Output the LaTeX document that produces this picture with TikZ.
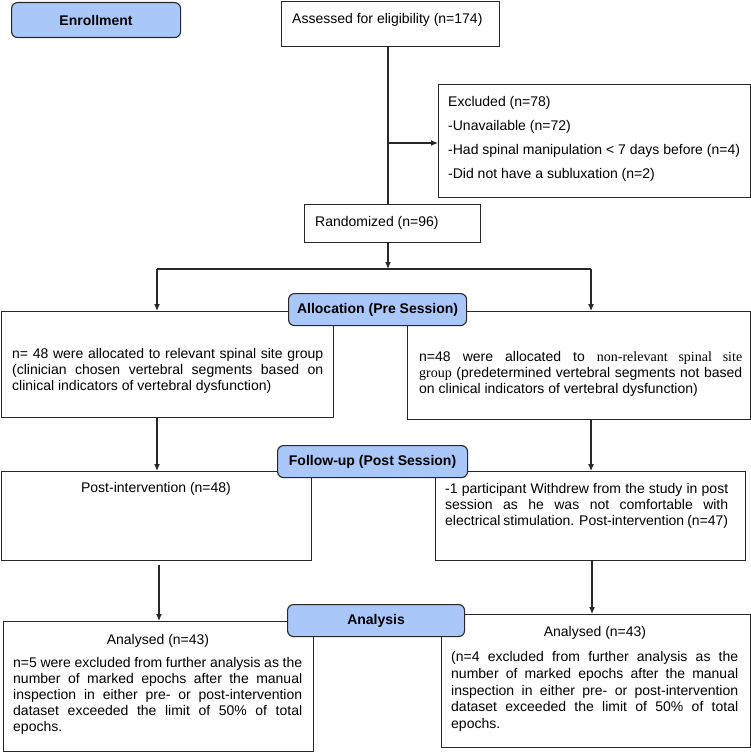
\documentclass[tikz,border=0pt]{standalone}
\usepackage{fontspec}
\setmainfont{Liberation Sans}
\newfontfamily\tnr{Liberation Serif}
\usetikzlibrary{arrows.meta}
\definecolor{labblue}{RGB}{170,199,250}
\definecolor{edge}{RGB}{40,40,40}
\tikzset{
  box/.style={draw=edge, line width=1.1pt, inner sep=0pt, anchor=north west},
  lab/.style={draw=edge, fill=labblue, line width=1.1pt, rounded corners=6pt, inner sep=0pt, anchor=north west, font=\bfseries\fontsize{14}{16}\selectfont},
  txt/.style={inner sep=0pt, font=\fontsize{14}{16}\selectfont},
  jpar/.style={txt, anchor=north west, align=justify},
  conn/.style={draw=edge, line width=1.1pt},
  arr/.style={conn, -{Latex[length=7pt,width=6pt]}},
}
\begin{document}
\begin{tikzpicture}[x=1pt,y=-1pt]
\useasboundingbox (0,0) rectangle (751,752);
% boxes
\node[box, minimum width=218pt, minimum height=45.5pt] (ass) at (281,0.6) {};
\node[box, minimum width=312pt, minimum height=113pt] (excl) at (438,84) {};
\node[box, minimum width=176pt, minimum height=38pt] (rand) at (304,204) {};
\node[box, minimum width=332.5pt, minimum height=106pt] (allocL) at (0.6,311) {};
\node[box, minimum width=343pt, minimum height=108pt] (allocR) at (407,311) {};
\node[box, minimum width=310.5pt, minimum height=89pt] (postL) at (0.6,471) {};
\node[box, minimum width=310pt, minimum height=89pt] (postR) at (435,471) {};
\node[box, minimum width=310pt, minimum height=130pt] (anL) at (3,621) {};
\node[box, minimum width=309pt, minimum height=133pt] (anR) at (441,614) {};
% texts
\node[txt, anchor=base west] (assT) at (292,23.6) {Assessed for eligibility (n=174)};
\node[txt, anchor=north west, align=left, font=\fontsize{14}{24}\selectfont] (exclT) at (448,96.4) {Excluded (n=78)\\-Unavailable (n=72)\\-Had spinal manipulation < 7 days before (n=4)\\-Did not have a subluxation (n=2)};
\node[txt, anchor=base west] (randT) at (315,226.6) {Randomized (n=96)};
\node[jpar, text width=311pt] (allocLT) at (12,348.4) {n= 48 were allocated to relevant spinal site group\linebreak (clinician chosen vertebral segments based on\linebreak clinical indicators of vertebral dysfunction)};
\node[jpar, text width=323pt] (allocRT) at (419,351.4) {n=48 were allocated to {\tnr non-relevant spinal site}\linebreak {\tnr group} (predetermined vertebral segments not based\linebreak on clinical indicators of vertebral dysfunction)};
\node[txt, anchor=base] (postLT) at (156,492.6) {Post-intervention (n=48)};
\node[jpar, text width=283pt] (postRT) at (445,483.4) {-1 participant Withdrew from the study in post\linebreak session as he was not comfortable with\linebreak electrical stimulation. Post-intervention (n=47)};
\node[txt, anchor=base] (anLT) at (158,644.6) {Analysed (n=43)};
\node[jpar, text width=289pt] (anLP) at (13,657.4) {n=5 were excluded from further analysis as the\linebreak number of marked epochs after the manual\linebreak inspection in either pre- or post-intervention\linebreak dataset exceeded the limit of 50\% of total\linebreak epochs.};
\node[txt, anchor=base] (anRT) at (595,636.6) {Analysed (n=43)};
\node[jpar, text width=287pt, font=\fontsize{14}{16.7}\selectfont] (anRP) at (451,651.4) {(n=4 excluded from further analysis as the\linebreak number of marked epochs after the manual\linebreak inspection in either pre- or post-intervention\linebreak dataset exceeded the limit of 50\% of total\linebreak epochs.};
% connectors
\coordinate (s1) at (388,143);
\coordinate (hs) at (388,269);
\coordinate (jL) at (157,269);
\coordinate (jR) at (591,269);
\coordinate (kL) at (159,560);
\coordinate (kR) at (592,560);
\draw[conn] (ass.south -| s1) -- (rand.north -| s1);
\draw[arr] (s1) -- (s1 -| excl.west);
\draw[arr] (rand.south -| hs) -- (hs);
\draw[conn] (jL) -- (jR);
\draw[arr] (jL) -- (jL |- allocL.north);
\draw[arr] (jR) -- (jR |- allocR.north);
\draw[arr] (allocL.south -| jL) -- (postL.north -| jL);
\draw[arr] (allocR.south -| jR) -- (postR.north -| jR);
\draw[arr, shorten <=4pt] (postL.south -| kL) -- (anL.north -| kL);
\draw[arr] (postR.south -| kR) -- (anR.north -| kR);
% labels
\node[lab, minimum width=169pt, minimum height=35pt] (enr) at (11,2) {Enrollment};
\node[lab, minimum width=178pt, minimum height=32pt] (alloc) at (288,293) {Allocation (Pre Session)};
\node[lab, minimum width=190pt, minimum height=32pt] (fol) at (277,445) {Follow-up (Post Session)};
\node[lab, minimum width=177pt, minimum height=32pt] (ana) at (287,604) {Analysis};
\end{tikzpicture}
\end{document}
